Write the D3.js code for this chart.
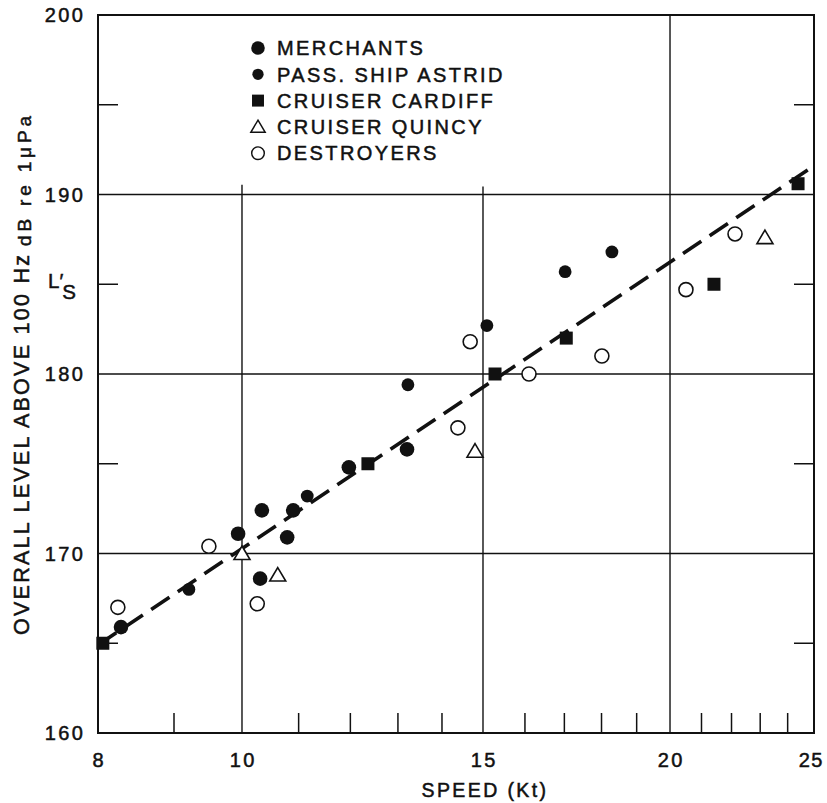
<!DOCTYPE html>
<html>
<head>
<meta charset="utf-8">
<script src="https://cdn.jsdelivr.net/npm/d3@7"></script>
<style>
  html, body { margin: 0; padding: 0; background: #fff; }
  svg { display: block; }
  text { font-family: "Liberation Sans", Arial, Helvetica, sans-serif; fill: #111; stroke: #111; stroke-width: 0.5px; }
</style>
</head>
<body>
<svg id="chart" width="827" height="803"></svg>
<script>
// Axis ticks
const speedTicks = [8, 10, 15, 20, 25];
const speedMinorTicks = [9, 11, 12, 13, 14, 16, 17, 18, 19, 21, 22, 23, 24];
const levelTicks = [160, 170, 180, 190, 200];
const levelMinorTicks = [165, 175, 185, 195];
const levelGrid = [170, 180, 190];

// Series: speed (kt) and overall level (dB)
const merchantsSpeed = [8.29, 9.94, 10.31, 10.34, 10.79, 10.9, 11.97, 13.2];
const merchantsLevel = [165.9, 171.1, 168.6, 172.4, 170.9, 172.4, 174.8, 175.8];

const astridSpeed = [9.21, 11.16, 13.22, 15.09, 17.02, 18.29];
const astridLevel = [168.0, 173.2, 179.4, 182.7, 185.7, 186.8];

const cardiffSpeed = [8.06, 12.36, 15.28, 17.05, 21.41, 24.39];
const cardiffLevel = [165.0, 175.0, 180.0, 182.0, 185.0, 190.6];

const quincySpeed = [10.0, 10.62, 14.8, 23.17];
const quincyLevel = [170.0, 168.8, 175.7, 187.6];

const destroyersSpeed = [8.25, 9.5, 10.26, 14.38, 14.68, 16.1, 18.01, 20.5, 22.12];
const destroyersLevel = [167.0, 170.4, 167.2, 177.0, 181.8, 180.0, 181.0, 184.7, 187.8];

// Fitted trend line end points
const fitSpeed = [8, 25];
const fitLevel = [164.9, 191.6];

const legendLabels = ["MERCHANTS", "PASS. SHIP ASTRID", "CRUISER CARDIFF", "CRUISER QUINCY", "DESTROYERS"];

// Layout
const W = 827, H = 803;
const margin = { left: 98, top: 15, right: 13, bottom: 70 };
const pw = W - margin.left - margin.right;
const ph = H - margin.top - margin.bottom;

const svg = d3.select("#chart");
const g = svg.append("g").attr("transform", `translate(${margin.left},${margin.top})`);

// The printed speed axis is logarithmic, calibrated between its labelled ticks
const speedStops = [0, 0.2011, 0.5377, 0.7989, 1];
const x = d3.scaleLog().domain(speedTicks).range(speedStops.map(f => f * pw));
const y = d3.scaleLinear().domain([160, 200]).range([ph, 0]);

const ink = "#111";
const LS = "2.4px";

// Horizontal grid lines
g.selectAll("line.hgrid").data(levelGrid).enter().append("line")
  .attr("x1", 0).attr("x2", pw)
  .attr("y1", d => y(d)).attr("y2", d => y(d))
  .attr("stroke", ink).attr("stroke-width", 1.3);

// Vertical grid lines (10 and 15 stop just above the 190 line to leave room for the legend)
const vgrid = [{ v: 10, top: 190.55 }, { v: 15, top: 190.45 }, { v: 20, top: 200 }];
g.selectAll("line.vgrid").data(vgrid).enter().append("line")
  .attr("x1", d => x(d.v)).attr("x2", d => x(d.v))
  .attr("y1", d => y(d.top)).attr("y2", ph)
  .attr("stroke", ink).attr("stroke-width", 1.4);

// Minor ticks: bottom (inward), left and right (inward)
const tickLen = 20;
g.selectAll("line.xminor").data(speedMinorTicks).enter().append("line")
  .attr("x1", d => x(d)).attr("x2", d => x(d))
  .attr("y1", ph).attr("y2", ph - tickLen)
  .attr("stroke", ink).attr("stroke-width", 1.5);
g.selectAll("line.yminorL").data(levelMinorTicks).enter().append("line")
  .attr("x1", 0).attr("x2", tickLen)
  .attr("y1", d => y(d)).attr("y2", d => y(d))
  .attr("stroke", ink).attr("stroke-width", 1.5);
g.selectAll("line.yminorR").data(levelMinorTicks).enter().append("line")
  .attr("x1", pw).attr("x2", pw - tickLen)
  .attr("y1", d => y(d)).attr("y2", d => y(d))
  .attr("stroke", ink).attr("stroke-width", 1.5);

// Frame
g.append("rect").attr("x", 0).attr("y", 0).attr("width", pw).attr("height", ph)
  .attr("fill", "none").attr("stroke", ink).attr("stroke-width", 2);

// Tick labels
g.selectAll("text.ylab").data(levelTicks).enter().append("text")
  .attr("x", -15 + 2.4).attr("y", d => y(d)).attr("dy", "0.36em")
  .attr("text-anchor", "end").attr("font-size", 20).attr("letter-spacing", LS)
  .text(d => d);
g.selectAll("text.xlab").data(speedTicks).enter().append("text")
  .attr("x", (d, i) => i === speedTicks.length - 1 ? pw + 10 : x(d) + 1.2)
  .attr("y", ph + 34)
  .attr("text-anchor", (d, i) => i === speedTicks.length - 1 ? "end" : "middle")
  .attr("font-size", 20)
  .attr("letter-spacing", (d, i) => i === speedTicks.length - 1 ? "1.5px" : LS)
  .text(d => d);

// Axis titles
svg.append("text")
  .attr("x", margin.left + x(15) + 2).attr("y", 797)
  .attr("text-anchor", "middle").attr("font-size", 19.5).attr("letter-spacing", LS)
  .text("SPEED (Kt)");

svg.append("text")
  .attr("transform", "translate(29,635) rotate(-90)")
  .attr("font-size", 21.5)
  .attr("textLength", 380).attr("lengthAdjust", "spacing")
  .text("OVERALL LEVEL ABOVE 100 Hz");
svg.append("text")
  .attr("transform", "translate(31,246) rotate(-90)")
  .attr("font-size", 19)
  .attr("textLength", 130).attr("lengthAdjust", "spacing")
  .text("dB re 1\u03BCPa");

// L's label
const ls = svg.append("text").attr("x", 48).attr("y", 288).attr("font-size", 20.5);
ls.append("tspan").text("L\u2032");
ls.append("tspan").attr("dy", 11).attr("dx", -1).text("S");

// Dashed trend line
const fit = fitSpeed.map((s, i) => [s, fitLevel[i]]);
g.append("path")
  .attr("d", d3.line().x(d => x(d[0])).y(d => y(d[1]))(fit))
  .attr("fill", "none").attr("stroke", ink).attr("stroke-width", 3.6)
  .attr("stroke-dasharray", "22,10");

// Marker drawing helpers
const sym = {
  merchants: (sel) => sel.append("circle").attr("r", 7.3).attr("fill", ink),
  astrid: (sel) => sel.append("path")
      .attr("d", d3.symbol().type(d3.symbolCircle).size(Math.PI * 6.4 * 6.4)())
      .attr("fill", ink),
  cardiff: (sel) => sel.append("rect").attr("x", -6.5).attr("y", -6.5)
      .attr("width", 13).attr("height", 13).attr("fill", ink),
  quincy: (sel) => sel.append("path")
      .attr("d", "M0,-7.5L8,6L-8,6Z")
      .attr("fill", "#fff").attr("stroke", ink).attr("stroke-width", 1.6),
  destroyers: (sel) => sel.append("circle").attr("r", 7)
      .attr("fill", "#fff").attr("stroke", ink).attr("stroke-width", 1.6)
};

const series = [
  { key: "merchants", s: merchantsSpeed, l: merchantsLevel },
  { key: "astrid", s: astridSpeed, l: astridLevel },
  { key: "cardiff", s: cardiffSpeed, l: cardiffLevel },
  { key: "quincy", s: quincySpeed, l: quincyLevel },
  { key: "destroyers", s: destroyersSpeed, l: destroyersLevel }
];

series.forEach(ser => {
  const pts = ser.s.map((s, i) => [s, ser.l[i]]);
  const grp = g.append("g").attr("class", ser.key);
  pts.forEach(p => {
    const m = grp.append("g").attr("transform", `translate(${x(p[0])},${y(p[1])})`);
    sym[ser.key](m);
  });
});

// Legend
const legendScale = { merchants: 0.93, astrid: 0.88, cardiff: 0.92, quincy: 0.9, destroyers: 0.9 };
const legend = svg.append("g").attr("transform", "translate(258,48)");
series.forEach((ser, i) => {
  const row = legend.append("g").attr("transform", `translate(0,${i * 26.3})`);
  const m = row.append("g").attr("transform", `scale(${legendScale[ser.key]})`);
  sym[ser.key](m);
  row.append("text").attr("x", 19).attr("y", 0).attr("dy", "0.36em")
    .attr("font-size", 20).attr("letter-spacing", LS).text(legendLabels[i]);
});
</script>
</body>
</html>
